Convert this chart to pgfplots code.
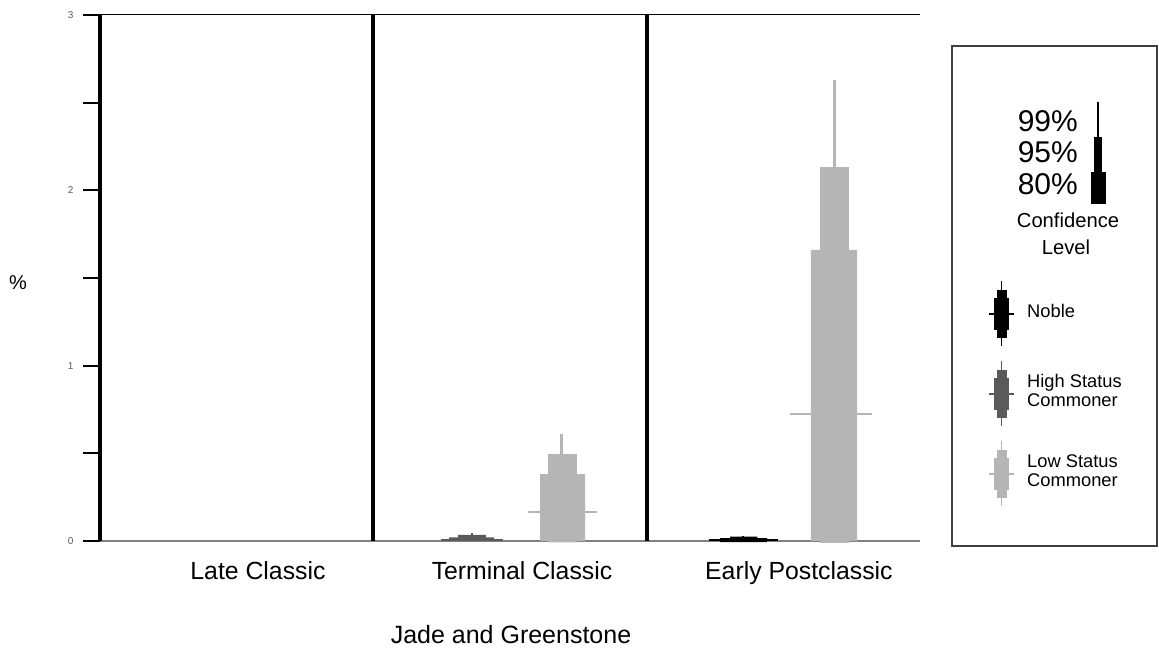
\documentclass[border=0pt]{standalone}
\usepackage{pgfplots}
\pgfplotsset{compat=1.18}
\usepackage{fontspec}
\setmainfont{Liberation Sans}
\definecolor{noble}{RGB}{0,0,0}
\definecolor{high}{RGB}{90,90,90}
\definecolor{low}{RGB}{181,181,181}
\definecolor{tickgray}{RGB}{90,90,90}
\newcommand{\fs}[1]{\fontsize{#1bp}{#1bp}\selectfont}
\begin{document}
\begin{tikzpicture}
\path[use as bounding box] (0,0) rectangle (1159bp,652bp);
\begin{axis}[
  at={(100bp,111bp)}, anchor=south west,
  scale only axis, width=820bp, height=526bp,
  xmin=0, xmax=3, ymin=0, ymax=3,
  clip=false,
  axis x line*=bottom, axis y line*=left,
  x axis line style={draw=gray, line width=1.5bp, -},
  y axis line style={draw=black, line width=4.5bp, -},
  xtick=\empty,
  ytick={0,0.5,1,1.5,2,2.5,3},
  yticklabels={0,,1,,2,,3},
  tick align=outside,
  major tick length=17bp,
  ytick style={line width=2bp, black},
  /pgf/number format/assume math mode=true,
  yticklabel style={font=\fs{10}, text=tickgray, xshift=-6bp},
]
% frame: top line and panel separators
\addplot[draw=black, line width=1bp] coordinates {(0,3) (3,3)};
\addplot[draw=black, line width=4bp] coordinates {(1,0) (1,3)};
\addplot[draw=black, line width=4bp] coordinates {(2,0) (2,3)};

% ---- Terminal Classic, High Status Commoner ----
\addplot[fill=high, draw=none] coordinates {(1.277,0) (1.442,0) (1.442,0.020) (1.277,0.020) (1.277,0)};
\addplot[fill=high, draw=none] coordinates {(1.310,0) (1.412,0) (1.412,0.035) (1.310,0.035) (1.310,0)};
\addplot[draw=high, line width=2bp] coordinates {(1.361,0.03) (1.361,0.046)};
\addplot[draw=high, line width=2bp] coordinates {(1.248,0.004) (1.475,0.004)};

% ---- Terminal Classic, Low Status Commoner ----
\addplot[fill=low, draw=none] coordinates {(1.639,-0.008) (1.745,-0.008) (1.745,0.496) (1.639,0.496) (1.639,-0.008)};
\addplot[fill=low, draw=none] coordinates {(1.610,0) (1.775,0) (1.775,0.382) (1.610,0.382) (1.610,0)};
\addplot[draw=low, line width=3bp] coordinates {(1.690,0.49) (1.690,0.61)};
\addplot[draw=low, line width=2.5bp] coordinates {(1.566,0.165) (1.819,0.165)};

% ---- Early Postclassic, Noble ----
\addplot[fill=noble, draw=none] coordinates {(2.269,-0.007) (2.441,-0.007) (2.441,0.017) (2.269,0.017) (2.269,-0.007)};
\addplot[fill=noble, draw=none] coordinates {(2.305,-0.005) (2.405,-0.005) (2.405,0.025) (2.305,0.025) (2.305,-0.005)};
\addplot[draw=noble, line width=2bp] coordinates {(2.353,0.02) (2.353,0.031)};
\addplot[draw=noble, line width=2bp] coordinates {(2.228,0.003) (2.481,0.003)};

% ---- Early Postclassic, Low Status Commoner ----
\addplot[fill=low, draw=none] coordinates {(2.634,-0.010) (2.740,-0.010) (2.740,2.132) (2.634,2.132) (2.634,-0.010)};
\addplot[fill=low, draw=none] coordinates {(2.601,0) (2.770,0) (2.770,1.660) (2.601,1.660) (2.601,0)};
\addplot[draw=low, line width=3bp] coordinates {(2.688,2.12) (2.688,2.632)};
\addplot[draw=low, line width=2.5bp] coordinates {(2.525,0.725) (2.825,0.725)};

% category labels
\node[anchor=base, font=\fs{24.8}, yshift=-39bp] at (axis cs:0.578,0) {Late Classic};
\node[anchor=base, font=\fs{24.8}, yshift=-39bp] at (axis cs:1.544,0) {Terminal Classic};
\node[anchor=base, font=\fs{24.8}, yshift=-39bp] at (axis cs:2.557,0) {Early Postclassic};
\end{axis}

% axis titles
\node[font=\fs{20}] at (18bp,369bp) {\%};
\node[anchor=base, font=\fs{25}] at (511bp,9bp) {Jade and Greenstone};

% legend box
\draw[line width=1.2bp, draw=black!75] (952bp,106bp) rectangle (1157bp,606bp);
% confidence key
\fill[black] (1097.2bp,515bp) rectangle (1098.8bp,550bp);
\fill[black] (1094bp,480bp) rectangle (1102bp,515bp);
\fill[black] (1091bp,448bp) rectangle (1106bp,480bp);
\node[anchor=base east, font=\fs{30}, inner sep=0pt] at (1078bp,520bp) {99\%};
\node[anchor=base east, font=\fs{30}, inner sep=0pt] at (1078bp,489bp) {95\%};
\node[anchor=base east, font=\fs{30}, inner sep=0pt] at (1078bp,457bp) {80\%};
\node[anchor=base, font=\fs{20.2}, inner sep=0pt] at (1068bp,424bp) {Confidence};
\node[anchor=base, font=\fs{20.2}, inner sep=0pt] at (1066bp,397bp) {Level};
% series keys
\foreach \c/\col in {338/noble, 258/high, 178/low}{
  \fill[\col] (1000.7bp,\c bp-32.5bp) rectangle (1002.3bp,\c bp+32.5bp);
  \fill[\col] (996.7bp,\c bp-24bp) rectangle (1007.3bp,\c bp+24bp);
  \fill[\col] (994bp,\c bp-16bp) rectangle (1009.3bp,\c bp+16bp);
  \fill[\col] (989bp,\c bp-1bp) rectangle (1014bp,\c bp+1bp);
}
\node[anchor=base west, font=\fs{18.3}, inner sep=0pt] at (1027bp,334bp) {Noble};
\node[anchor=base west, font=\fs{18.3}, inner sep=0pt] at (1027bp,264bp) {High Status};
\node[anchor=base west, font=\fs{18.3}, inner sep=0pt] at (1027bp,245bp) {Commoner};
\node[anchor=base west, font=\fs{18.3}, inner sep=0pt] at (1027bp,184bp) {Low Status};
\node[anchor=base west, font=\fs{18.3}, inner sep=0pt] at (1027bp,165bp) {Commoner};
\end{tikzpicture}
\end{document}
